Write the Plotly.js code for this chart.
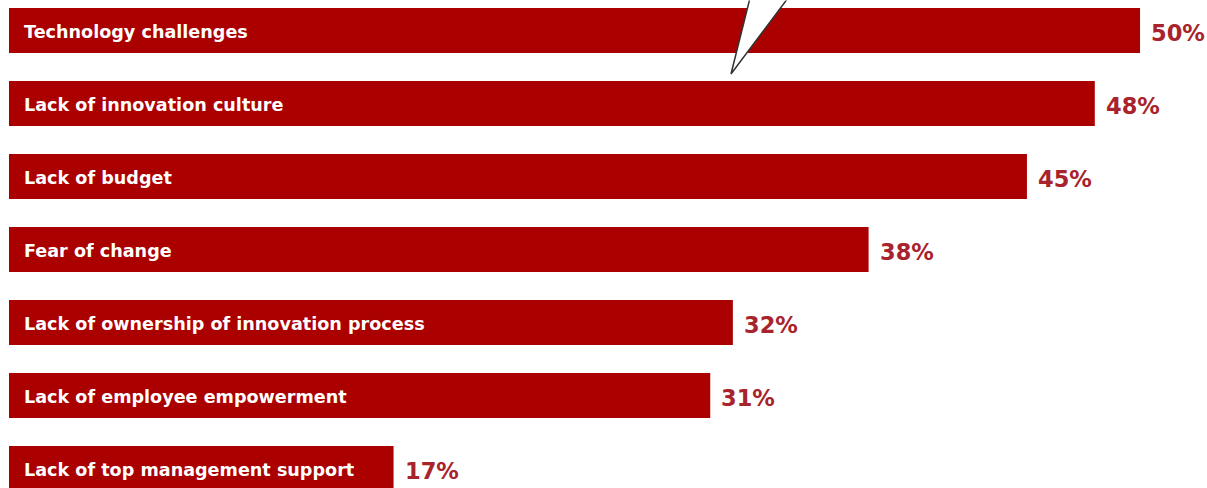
<!DOCTYPE html>
<html>
<head>
<meta charset="utf-8">
<script src="https://cdn.plot.ly/plotly-3.0.1.min.js"></script>
<style>html,body{margin:0;padding:0;background:#fff;}#chart{width:1207px;height:488px;}</style>
</head>
<body>
<div id="chart"></div>
<script>
const categories = [
  "Technology challenges",
  "Lack of innovation culture",
  "Lack of budget",
  "Fear of change",
  "Lack of ownership of innovation process",
  "Lack of employee empowerment",
  "Lack of top management support"
];
const values = [50, 48, 45, 38, 32, 31, 17];
const valueLabels = ["50%", "48%", "45%", "38%", "32%", "31%", "17%"];

const barColor = "#ab0000";
const valueColor = "#a8232b";

const trace = {
  type: "bar",
  orientation: "h",
  x: values,
  y: categories,
  width: 0.616,
  marker: {color: barColor},
  hoverinfo: "skip"
};

const annotations = [];
categories.forEach((c, i) => {
  annotations.push({
    x: 0, y: c, xref: "x", yref: "y",
    text: c, showarrow: false, xanchor: "left", xshift: 13, yshift: -1,
    font: {family: "DejaVu Sans, sans-serif", size: 17.6, color: "#ffffff", weight: 700}
  });
  annotations.push({
    x: values[i], y: c, xref: "x", yref: "y",
    text: valueLabels[i], showarrow: false, xanchor: "left", xshift: 9, yshift: -2,
    font: {family: "DejaVu Sans, sans-serif", size: 22.5, color: valueColor, weight: 700}
  });
});

const W = 1207, H = 488;
const px = (x) => x / W, py = (y) => 1 - y / H;

const layout = {
  width: W, height: H,
  margin: {l: 0, r: 0, t: 0, b: 0, pad: 0},
  paper_bgcolor: "#ffffff",
  plot_bgcolor: "#ffffff",
  showlegend: false,
  xaxis: {range: [-0.398, 52.96], visible: false, fixedrange: true},
  yaxis: {type: "category", range: [6.267, -0.418], visible: false, fixedrange: true},
  annotations: annotations,
  shapes: [{
    type: "path", xref: "paper", yref: "paper",
    path: `M ${px(750)} ${py(-2)} L ${px(731)} ${py(74)} L ${px(788)} ${py(-2)} Z`,
    fillcolor: "#ffffff",
    line: {color: "#333333", width: 1.5},
    layer: "above"
  }, {
    type: "line", xref: "paper", yref: "paper",
    x0: px(748), y0: py(-1), x1: px(790), y1: py(-1),
    line: {color: "#ffffff", width: 3},
    layer: "above"
  }]
};

Plotly.newPlot("chart", [trace], layout, {displayModeBar: false, staticPlot: true});
</script>
</body>
</html>
